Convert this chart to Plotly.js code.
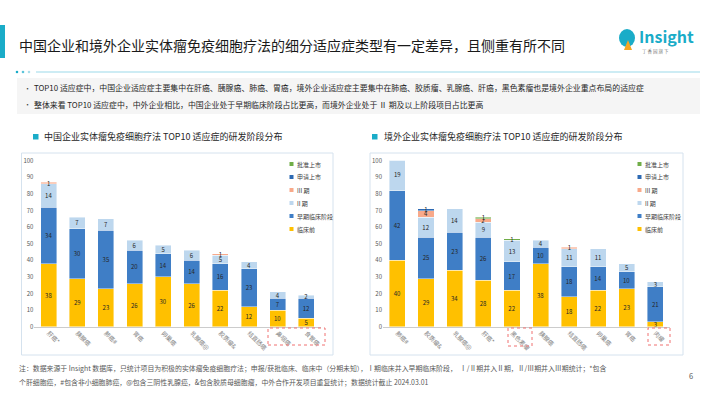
<!DOCTYPE html>
<html><head><meta charset="utf-8">
<script src="https://cdn.plot.ly/plotly-3.0.1.min.js"></script>
<style>html,body{margin:0;padding:0;background:#fff;}#chart{width:710px;height:399px;}</style>
</head><body><div id="chart"></div>
<script>
// ---------- DATA ----------
const categoriesCN = ['肝癌*','胰腺癌','肺癌#','胃癌','卵巢癌','乳腺癌@','胶质瘤&','结直肠癌','鼻咽癌','食管癌'];
const categoriesOS = ['肺癌#','胶质瘤&','乳腺癌@','肝癌*','黑色素瘤','胰腺癌','结直肠癌','卵巢癌','胃癌','肉瘤'];
const seriesNames = ['临床前','早期临床阶段','II 期','III 期','申请上市','批准上市'];
const seriesColors = ['#FFC000','#3F7EC6','#BDD7EE','#F8A98A','#2E6AB3','#70AD47'];

const preclinCN  = [38,29,23,26,30,26,22,12,10,5];
const earlyCN    = [34,30,35,20,14,14,16,23,7,12];
const phase2CN   = [14,7,7,6,5,6,5,4,4,2];
const phase3CN   = [1,0,0,0,0,0,1,0,0,0];
const filingCN   = [0,0,0,0,0,0,0,0,0,0];
const approvedCN = [0,0,0,0,0,0,0,0,0,0];

const preclinOS  = [40,29,34,28,22,38,18,22,23,3];
const earlyOS    = [42,25,23,26,17,10,18,14,10,21];
const phase2OS   = [19,12,14,9,13,4,11,11,5,3];
const phase3OS   = [0,4,0,2,0,0,1,0,0,0];
const filingOS   = [0,1,0,0,0,0,0,0,0,0];
const approvedOS = [0,0,0,1,1,0,0,0,0,0];

const yTicks = [0,10,20,30,40,50,60,70,80,90,100];

const titleText = '中国企业和境外企业实体瘤免疫细胞疗法的细分适应症类型有一定差异，且侧重有所不同';
const bullet1 = 'TOP10 适应症中，中国企业适应症主要集中在肝癌、胰腺癌、肺癌、胃癌，境外企业适应症主要集中在肺癌、胶质瘤、乳腺癌、肝癌，黑色素瘤也是境外企业重点布局的适应症';
const bullet2 = '整体来看 TOP10 适应症中，中外企业相比，中国企业处于早期临床阶段占比更高，而境外企业处于 Ⅱ 期及以上阶段项目占比更高';
const chartTitleCN = '中国企业实体瘤免疫细胞疗法 TOP10 适应症的研发阶段分布';
const chartTitleOS = '境外企业实体瘤免疫细胞疗法 TOP10 适应症的研发阶段分布';
const footer1 = '注：数据来源于 Insight 数据库，只统计项目为积极的实体瘤免疫细胞疗法；申报/获批临床、临床中（分期未知），Ⅰ期临床并入早期临床阶段，  Ⅰ/Ⅱ期并入Ⅱ期，Ⅱ/Ⅲ期并入Ⅲ期统计；*包含';
const footer2 = '个肝细胞癌，#包含非小细胞肺癌，@包含三阴性乳腺癌，&包含胶质母细胞瘤，中外合作开发项目重复统计；数据统计截止 2024.03.01';

// ---------- HELPERS ----------
const W = 710, H = 399;
const px = x => x / W;
const py = y => 1 - y / H;
const FONT = '"Noto Sans CJK SC", "Noto Sans", sans-serif';
const lbl = arr => arr.map(v => v ? String(v) : '');
const nz = arr => arr.map(v => v ? v : null);

const seriesCN = [preclinCN, earlyCN, phase2CN, phase3CN, filingCN, approvedCN];
const seriesOS = [preclinOS, earlyOS, phase2OS, phase3OS, filingOS, approvedOS];

const traces = [];
function addTraces(cats, series, xa, ya) {
  series.forEach((vals, i) => {
    traces.push({
      type: 'bar', name: seriesNames[i], x: cats, y: nz(vals),
      xaxis: xa, yaxis: ya,
      marker: {color: seriesColors[i], line: {color: 'rgba(255,255,255,0.7)', width: 0.6}},
      text: lbl(vals), textposition: 'inside', insidetextanchor: 'middle', textangle: 0,
      constraintext: 'none',
      textfont: {size: 6, color: '#262626', family: FONT},
      hoverinfo: 'x+y+name', showlegend: false, cliponaxis: true
    });
  });
}
addTraces(categoriesCN, seriesCN, 'x', 'y');
addTraces(categoriesOS, seriesOS, 'x2', 'y2');

const yDom = [py(326.7), py(160.7)];
const axisX = {
  type: 'category', tickangle: 45, tickfont: {size: 6, color: '#7F7F7F', family: FONT},
  showline: true, linecolor: '#BFBFBF', linewidth: 0.8, ticks: '', showgrid: false, zeroline: false, fixedrange: true
};
const axisY = {
  range: [0, 100], tickvals: yTicks, showgrid: false, zeroline: false, showline: false,
  tickfont: {size: 6, color: '#595959', family: FONT}, ticks: '', fixedrange: true, domain: yDom
};

const shapes = [];
const annotations = [];
function rect(x0, y0, x1, y1, fill, line, extra) {
  shapes.push(Object.assign({type: 'rect', xref: 'paper', yref: 'paper', x0: px(x0), x1: px(x1), y0: py(y1), y1: py(y0),
    fillcolor: fill, line: line || {width: 0}, layer: 'below'}, extra || {}));
}
function text(x, y, t, size, color, opts) {
  annotations.push(Object.assign({xref: 'paper', yref: 'paper', x: px(x), y: py(y), text: t, showarrow: false,
    xanchor: 'left', yanchor: 'middle', font: {size: size, color: color, family: FONT}}, opts || {}));
}

// header
rect(0, 25, 5, 58, '#1AACC8');
text(17, 45, titleText, 14, '#1a1a1a');
// dotted divider
[17, 23, 29].forEach((x, i) => shapes.push({type: 'circle', xref: 'paper', yref: 'paper',
  x0: px(x - 1.3), x1: px(x + 1.3), y0: py(73.3), y1: py(70.7), fillcolor: ['#1AACC8', '#5CC4DA', '#A8DDEA'][i], line: {width: 0}}));
shapes.push({type: 'line', xref: 'paper', yref: 'paper', x0: px(36), x1: px(700), y0: py(72), y1: py(72), line: {color: '#BDE6F0', width: 1.5}});
// bullet box
rect(17, 78, 700, 114, '#F5F5F5');
text(22, 87.5, '•', 7, '#404040');
text(32, 87.5, bullet1, 7.9, '#262626');
text(22, 104.5, '•', 7, '#404040');
text(32, 104.5, bullet2, 7.9, '#262626');
// chart titles
rect(33, 134, 38.5, 139.5, '#1AACC8');
text(42, 137, chartTitleCN, 9, '#262626');
rect(372, 134, 377.5, 139.5, '#1AACC8');
text(382, 137, chartTitleOS, 9, '#262626');
// chart boxes
rect(21.5, 153, 333, 355, 'rgba(0,0,0,0)', {color: '#D5E2EE', width: 1});
rect(370, 153, 683, 355, 'rgba(0,0,0,0)', {color: '#D5E2EE', width: 1});

// legends (reversed stack order)
function legend(x0, y0) {
  for (let k = 0; k < seriesNames.length; k++) {
    const i = seriesNames.length - 1 - k;
    const y = y0 + k * 13;
    rect(x0, y - 2, x0 + 4, y + 2, seriesColors[i], null, {layer: 'above'});
    text(x0 + 5.5, y, seriesNames[i], 6, '#404040');
  }
}
legend(289.5, 164);
legend(637.5, 164);

// dashed highlight boxes around labels
[[268, 328, 325, 345], [508, 328, 532, 346], [648, 328, 670, 345]].forEach(b =>
  shapes.push({type: 'rect', xref: 'paper', yref: 'paper', x0: px(b[0]), x1: px(b[2]), y0: py(b[3]), y1: py(b[1]),
    line: {color: '#F07070', width: 1, dash: 'dot'}, fillcolor: 'rgba(0,0,0,0)'}));

// footer
text(17, 368, footer1, 6.9, '#595959');
text(17, 382, footer2, 6.9, '#595959');
text(691, 375, '6', 7.5, '#595959', {xanchor: 'center'});

// logo
shapes.push({type: 'circle', xref: 'paper', yref: 'paper', x0: px(619), x1: px(635), y0: py(47), y1: py(29), fillcolor: '#1AACC8', line: {width: 0}});
shapes.push({type: 'path', xref: 'paper', yref: 'paper',
  path: `M ${px(624)} ${py(50)} L ${px(628)} ${py(40)} L ${px(632)} ${py(50)} Z`, fillcolor: '#F5A623', line: {width: 0}});
text(637, 36, '<b>Insight</b>', 16, '#1AACC8');
text(640, 51, '丁 香 园 旗 下', 4.5, '#7F7F7F');

const layout = {
  width: W, height: H, margin: {l: 0, r: 0, t: 0, b: 0},
  paper_bgcolor: '#ffffff', plot_bgcolor: 'rgba(0,0,0,0)',
  barmode: 'stack', bargap: 0.44, showlegend: false,
  font: {family: FONT},
  xaxis: Object.assign({}, axisX, {domain: [px(34.4), px(320.6)], anchor: 'y'}),
  yaxis: Object.assign({}, axisY, {anchor: 'x'}),
  xaxis2: Object.assign({}, axisX, {domain: [px(383), px(669.7)], anchor: 'y2'}),
  yaxis2: Object.assign({}, axisY, {anchor: 'x2'}),
  uniformtext: {mode: false},
  shapes: shapes, annotations: annotations
};
Plotly.newPlot('chart', traces, layout, {displayModeBar: false, staticPlot: true});
</script></body></html>
